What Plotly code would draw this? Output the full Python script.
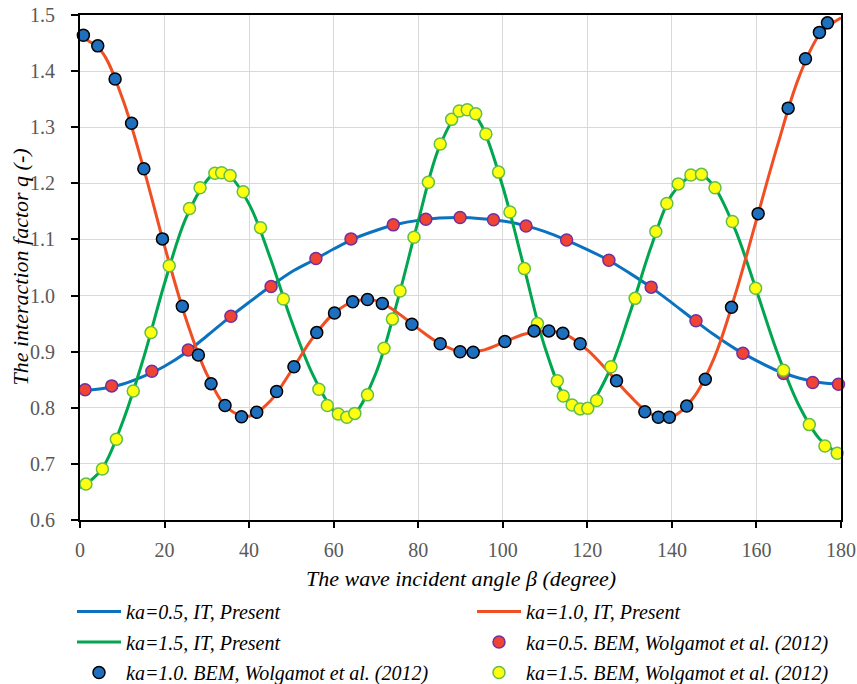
import plotly.graph_objects as go

# ---------------- data ----------------
# IT, Present (continuous curves)
it_x_05 = [0, 5, 10, 15, 20, 25, 30, 35, 40, 45, 50, 55, 60, 65, 70, 75, 80, 85, 90,
           95, 100, 105, 110, 115, 120, 125, 130, 135, 140, 145, 150, 155, 160, 165, 170, 175, 180]
it_q_05 = [0.830, 0.834, 0.842, 0.856, 0.874, 0.898, 0.928, 0.959, 0.988, 1.016, 1.042, 1.062,
           1.083, 1.102, 1.116, 1.127, 1.134, 1.138, 1.139, 1.137, 1.133, 1.125, 1.114, 1.099,
           1.082, 1.063, 1.040, 1.015, 0.987, 0.958, 0.930, 0.905, 0.884, 0.866, 0.853, 0.845, 0.842]

it_x_10 = [0, 5, 10, 15, 20, 25, 30, 35, 40, 45, 50, 55, 60, 65, 70, 75, 80, 85, 90,
           95, 100, 105, 110, 115, 120, 125, 130, 135, 140, 145, 150, 155, 160, 165, 170, 175, 180]
it_q_10 = [1.462, 1.436, 1.352, 1.228, 1.088, 0.960, 0.860, 0.799, 0.785, 0.812, 0.866, 0.924,
           0.968, 0.990, 0.991, 0.970, 0.941, 0.915, 0.900, 0.902, 0.916, 0.931, 0.937, 0.930,
           0.903, 0.864, 0.822, 0.789, 0.784, 0.817, 0.889, 1.002, 1.135, 1.268, 1.388, 1.466, 1.495]

it_x_15 = [0, 5, 10, 15, 20, 25, 30, 32.5, 35, 40, 45, 50, 55, 60, 62.5, 65, 70, 75, 80, 85,
           90, 92, 95, 100, 105, 110, 115, 118.5, 120, 125, 130, 135, 140, 145, 146.5, 150,
           155, 160, 165, 170, 175, 180]
it_q_15 = [0.657, 0.689, 0.773, 0.888, 1.022, 1.137, 1.205, 1.221, 1.216, 1.163, 1.067, 0.955,
           0.860, 0.795, 0.784, 0.790, 0.862, 0.988, 1.133, 1.265, 1.330, 1.333, 1.303, 1.194,
           1.051, 0.907, 0.815, 0.797, 0.799, 0.862, 0.967, 1.085, 1.180, 1.216, 1.218, 1.194,
           1.117, 1.009, 0.897, 0.805, 0.744, 0.716]

# BEM, Wolgamot et al. (2012) (markers)
bem_x_05 = [1.2, 7.5, 17.0, 25.6, 35.7, 45.2, 55.8, 64.1, 74.1, 81.8, 89.9, 97.8, 105.5,
            115.1, 125.1, 135.1, 145.7, 156.8, 166.4, 173.3, 179.4]
bem_q_05 = [0.832, 0.839, 0.865, 0.903, 0.963, 1.016, 1.066, 1.101, 1.126, 1.136, 1.139, 1.135,
            1.124, 1.099, 1.063, 1.015, 0.955, 0.897, 0.861, 0.845, 0.842]

bem_x_10 = [0.8, 4.2, 8.3, 12.2, 15.1, 19.5, 24.2, 28.0, 31.0, 34.3, 38.2, 41.8, 46.5, 50.6,
            56.0, 60.2, 64.5, 68.0, 71.5, 78.5, 85.2, 89.9, 93.0, 100.5, 107.4, 110.9, 114.2,
            118.3, 126.9, 133.6, 136.8, 139.4, 143.5, 147.9, 154.1, 160.4, 167.5, 171.6, 174.9, 176.8]
bem_q_10 = [1.464, 1.445, 1.386, 1.307, 1.226, 1.101, 0.981, 0.894, 0.843, 0.804, 0.784, 0.792,
            0.829, 0.873, 0.934, 0.969, 0.989, 0.993, 0.986, 0.949, 0.914, 0.900, 0.899, 0.918,
            0.937, 0.937, 0.933, 0.914, 0.848, 0.793, 0.783, 0.783, 0.803, 0.851, 0.979, 1.146,
            1.334, 1.422, 1.469, 1.486]

bem_x_15 = [1.4, 5.3, 8.6, 12.6, 16.8, 21.1, 25.9, 28.4, 31.9, 33.5, 35.5, 38.6, 42.7, 48.1,
            56.5, 58.5, 61.1, 63.1, 65.0, 68.0, 71.9, 73.9, 75.7, 79.0, 82.4, 85.2, 87.9, 89.7,
            91.6, 93.6, 96.0, 99.0, 101.7, 105.1, 108.2, 112.9, 114.3, 116.4, 118.3, 120.1,
            122.2, 125.6, 131.3, 136.2, 138.8, 141.5, 144.5, 147.0, 150.2, 154.3, 159.8, 166.4,
            172.5, 176.2, 179.1]
bem_q_15 = [0.664, 0.691, 0.744, 0.830, 0.934, 1.053, 1.155, 1.192, 1.218, 1.219, 1.214, 1.185,
            1.121, 0.994, 0.833, 0.804, 0.789, 0.783, 0.790, 0.823, 0.906, 0.958, 1.008, 1.104,
            1.202, 1.270, 1.314, 1.329, 1.331, 1.324, 1.288, 1.220, 1.149, 1.048, 0.950, 0.848,
            0.821, 0.805, 0.798, 0.799, 0.813, 0.873, 0.995, 1.114, 1.164, 1.199, 1.215, 1.216,
            1.192, 1.132, 1.013, 0.867, 0.770, 0.732, 0.719]

x_ticks = [0, 20, 40, 60, 80, 100, 120, 140, 160, 180]
y_ticks = [0.6, 0.7, 0.8, 0.9, 1.0, 1.1, 1.2, 1.3, 1.4, 1.5]

x_title = "The wave incident angle β (degree)"
y_title = "The interaction factor q (-)"

# ---------------- styling ----------------
FONT = "Liberation Serif"
C_BLUE = "#0A72BF"
C_RED = "#F04E23"
C_GREEN = "#00A650"

fig = go.Figure()

fig.add_trace(go.Scatter(x=it_x_05, y=it_q_05, mode="lines", line=dict(color=C_BLUE, width=3, shape="spline"),
                         name="ka=0.5, IT, Present", legend="legend", legendgroup="a"))
fig.add_trace(go.Scatter(x=it_x_15, y=it_q_15, mode="lines", line=dict(color=C_GREEN, width=3, shape="spline"),
                         name="ka=1.5, IT, Present", legend="legend", legendgroup="b"))
fig.add_trace(go.Scatter(x=it_x_10, y=it_q_10, mode="lines", line=dict(color=C_RED, width=3, shape="spline"),
                         name="ka=1.0, IT, Present", legend="legend2", legendgroup="d"))

fig.add_trace(go.Scatter(x=bem_x_05, y=bem_q_05, mode="markers", cliponaxis=False,
                         marker=dict(size=12, color="#EF4433", line=dict(color="#7030A0", width=1.5)),
                         name="ka=0.5. BEM, Wolgamot et al. (2012)", legend="legend2", legendgroup="e"))
fig.add_trace(go.Scatter(x=bem_x_15, y=bem_q_15, mode="markers", cliponaxis=False,
                         marker=dict(size=12, color="#FFFF10", line=dict(color="#62BE48", width=1.5)),
                         name="ka=1.5. BEM, Wolgamot et al. (2012)", legend="legend2", legendgroup="f"))
fig.add_trace(go.Scatter(x=bem_x_10, y=bem_q_10, mode="markers", cliponaxis=False,
                         marker=dict(size=12, color="#1F6FBF", line=dict(color="#000000", width=1.5)),
                         name="ka=1.0. BEM, Wolgamot et al. (2012)", legend="legend", legendgroup="c"))

legend_common = dict(
    orientation="v", xref="container", yref="container", xanchor="left", yanchor="top",
    font=dict(family=FONT, size=20, color="#000000", style="italic"),
    bgcolor="rgba(0,0,0,0)", borderwidth=0, itemwidth=44,
    traceorder="grouped", tracegroupgap=1.5,
)

fig.update_layout(
    width=857, height=684,
    margin=dict(l=80, r=16, t=15, b=164, autoexpand=False),
    plot_bgcolor="white", paper_bgcolor="white",
    font=dict(family=FONT, size=20, color="#595959"),
    legend=dict(x=72 / 857, y=1 - 592 / 684, **legend_common),
    legend2=dict(x=472 / 857, y=1 - 592 / 684, **legend_common),
    xaxis=dict(
        range=[0, 180], tickvals=x_ticks, ticktext=[str(v) for v in x_ticks],
        automargin=False,
        showgrid=True, gridcolor="#D9D9D9", gridwidth=1.3,
        showline=True, linecolor="#000000", linewidth=2, mirror=True,
        ticks="outside", ticklen=6, tickcolor="#000000", tickwidth=1.5,
        ticklabelstandoff=5,
        tickfont=dict(family=FONT, size=20, color="#595959"),
        zeroline=False,
    ),
    yaxis=dict(
        range=[0.6, 1.5], tickvals=y_ticks, ticktext=["%.1f" % v for v in y_ticks],
        automargin=False,
        showgrid=True, gridcolor="#D9D9D9", gridwidth=1.3,
        showline=True, linecolor="#000000", linewidth=2, mirror=True,
        ticks="outside", ticklen=7, tickcolor="#000000", tickwidth=1.5,
        ticklabelstandoff=12,
        tickfont=dict(family=FONT, size=20, color="#595959"),
        zeroline=False,
    ),
    annotations=[
        dict(text=x_title, xref="paper", yref="paper", x=0.5, y=-(578 - 520) / 505,
             xanchor="center", yanchor="middle", showarrow=False,
             font=dict(family=FONT, size=22, color="#000000", style="italic")),
        dict(text=y_title, xref="paper", yref="paper", x=(20 - 80) / 761, y=0.5,
             xanchor="center", yanchor="middle", showarrow=False, textangle=-90,
             font=dict(family=FONT, size=22, color="#000000", style="italic")),
    ],
)

fig.write_html("out.html")
